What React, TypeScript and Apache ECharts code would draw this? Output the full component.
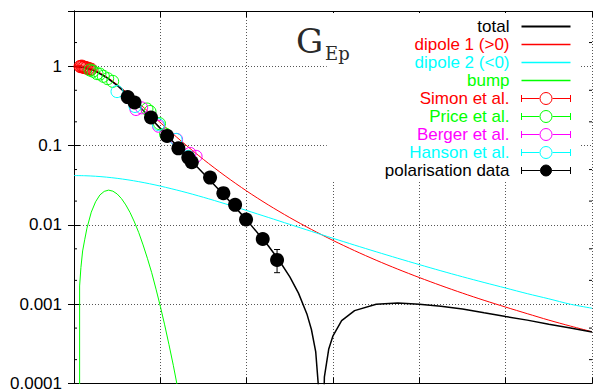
import React, { useEffect, useRef } from "react";
import * as echarts from "echarts";

// ---- curves (x = Q, y = |G|) ----
const totalX = [0, 0.125, 0.25, 0.375, 0.5, 0.625, 0.75, 0.875, 1, 1.25, 1.5, 1.75, 2, 2.25, 2.375, 2.5, 2.6, 2.7, 2.75, 2.8, 2.85, 2.865, 2.9, 2.95, 3, 3.1, 3.25, 3.5, 3.75, 4, 4.25, 4.5, 4.75, 5, 5.25, 5.5, 5.75, 6];
const totalY = [0.998, 0.9636, 0.8673, 0.7292, 0.5766, 0.4347, 0.3182, 0.2298, 0.1654, 0.0859, 0.0446, 0.023, 0.01159, 0.00547, 0.00359, 0.00221, 0.00138, 0.00074, 0.00048, 0.00025, 0.00005, 0.000001, 0.00012, 0.00027, 0.0004, 0.00062, 0.00083, 0.001, 0.00104, 0.001, 0.00094, 0.00087, 0.00078, 0.0007, 0.00063, 0.00056, 0.0005, 0.000445];

const dipoleX = [0, 0.125, 0.25, 0.375, 0.5, 0.625, 0.75, 0.875, 1, 1.25, 1.5, 1.75, 2, 2.25, 2.5, 2.75, 3, 3.25, 3.5, 3.75, 4, 4.25, 4.5, 4.75, 5, 5.25, 5.5, 5.75, 6];
const dipole1Y = [1.04, 0.9988, 0.8888, 0.7421, 0.5908, 0.4558, 0.3454, 0.2598, 0.1954, 0.1124, 0.067, 0.0416, 0.0268, 0.01792, 0.01237, 0.00878, 0.00638, 0.00474, 0.00359, 0.00277, 0.00217, 0.00172, 0.00138, 0.00112, 0.00092, 0.00076, 0.00063, 0.00053, 0.00045];
const dipole2Y = [0.042, 0.04178, 0.04115, 0.04011, 0.03873, 0.03706, 0.03516, 0.03309, 0.03093, 0.02653, 0.02232, 0.01851, 0.01522, 0.01245, 0.01016, 0.0083, 0.00679, 0.00557, 0.00459, 0.0038, 0.00316, 0.00264, 0.00222, 0.00188, 0.0016, 0.00136, 0.00117, 0.001, 0.00089];

const bumpX = [0.065, 0.065, 0.08, 0.1, 0.125, 0.15, 0.2, 0.25, 0.3, 0.35, 0.4, 0.45, 0.5, 0.55, 0.6, 0.65, 0.7, 0.75, 0.8, 0.85, 0.9, 0.95, 1.0, 1.05, 1.1, 1.15, 1.2, 1.3];
const bumpY = [0.000001, 0.0017, 0.0029, 0.0047, 0.0066, 0.0091, 0.0145, 0.0196, 0.0239, 0.0265, 0.0275, 0.0267, 0.0246, 0.0215, 0.0179, 0.0143, 0.0109, 0.008, 0.0056, 0.0038, 0.0025, 0.00155, 0.00094, 0.00055, 0.00031, 0.00017, 0.000089, 0.000022];

// ---- data sets ----
const simonX = [0.07, 0.08, 0.09, 0.1, 0.11, 0.12, 0.13, 0.14, 0.15, 0.165, 0.18, 0.2];
const simonY = [1.0, 0.99, 1.01, 0.985, 0.975, 0.98, 0.965, 0.955, 0.96, 0.94, 0.935, 0.92];
const priceX = [0.185, 0.22, 0.267, 0.3, 0.34, 0.39, 0.448, 0.845, 0.88, 0.99, 1.06];
const priceY = [0.9, 0.87, 0.81, 0.8, 0.75, 0.7, 0.648, 0.29, 0.27, 0.19, 0.14];
const bergerX = [0.718, 0.784, 0.979, 1.188, 1.344, 1.414];
const bergerY = [0.286, 0.3, 0.176, 0.12, 0.08, 0.0734];
const hansonX = [0.498, 0.707, 0.977, 1.182, 1.324];
const hansonY = [0.481, 0.312, 0.185, 0.12, 0.0734];
const polX = [0.622, 0.701, 0.892, 1.078, 1.209, 1.324, 1.364, 1.576, 1.73, 1.866, 1.993, 2.186, 2.352];
const polY = [0.41, 0.35, 0.2267, 0.1328, 0.0925, 0.0707, 0.0617, 0.0396, 0.0252, 0.01795, 0.0117, 0.00665, 0.00362];
const polLo = [0.4, 0.34, 0.22, 0.128, 0.089, 0.068, 0.059, 0.038, 0.024, 0.0169, 0.0109, 0.0059, 0.0025];
const polHi = [0.42, 0.36, 0.233, 0.138, 0.096, 0.0735, 0.0645, 0.0412, 0.0264, 0.019, 0.0125, 0.0074, 0.0049];

// ---- axis ticks ----
const yMin = 0.0001;
const yMax = 5;
const minorTicksY = [0.0002, 0.0005, 0.002, 0.005, 0.02, 0.05, 0.2, 0.5, 2];

const FONT = "'Liberation Sans', Arial, sans-serif";
const ICON_OPEN = "path://M0,6L18,6M31,6L49,6M0,2.5L0,9.5M49,2.5L49,9.5M30.5,6A6,6,0,1,1,18.5,6A6,6,0,1,1,30.5,6Z";
const ICON_FILLED = "path://M0,6L19,6M30,6L49,6M0,2.5L0,9.5M49,2.5L49,9.5M30,6A5.5,5.5,0,1,1,19,6A5.5,5.5,0,1,1,30,6Z";
const ICON_LINE = "path://M0,0L49,0L49,1.5L0,1.5Z";
const ICON_LINE_BOLD = "path://M0,0L49,0L49,2L0,2Z";

function fmtLog(v: number) {
  const l = Math.log10(v);
  const e = Math.round(l);
  if (Math.abs(l - e) > 1e-6) return "";
  if (e >= 0) return String(Math.pow(10, e));
  return "0." + "0".repeat(-e - 1) + "1";
}

function zip(xs: number[], ys: number[]) {
  return xs.map((x, i) => [x, ys[i]]);
}

function openScatter(name: string, color: string, xs: number[], ys: number[]) {
  return {
    type: "scatter",
    name,
    data: zip(xs, ys),
    symbol: "circle",
    symbolSize: 12,
    itemStyle: { color: "rgba(0,0,0,0)", borderColor: color, borderWidth: 1, opacity: 1 },
    z: 4,
  };
}

export default function App() {
  const ref = useRef<HTMLDivElement>(null);
  useEffect(() => {
    if (!ref.current) return;
    const chart = echarts.init(ref.current, undefined, { renderer: "svg" });
    const legendItem = (name: string, color: string, extra: any = {}) => ({
      name,
      textStyle: { color, fontSize: 17, fontFamily: FONT, padding: [0, 7, 0, 0] },
      ...extra,
    });
    const lineItem = (name: string, color: string, icon: string) =>
      legendItem(name, color, { icon, itemStyle: { color, borderWidth: 0, opacity: 1 } });
    const option: any = {
      animation: false,
      backgroundColor: "#fff",
      grid: { left: 74, top: 11, right: 2, bottom: 7 },
      xAxis: [
        {
          type: "value",
          min: 0,
          max: 6,
          interval: 1,
          position: "bottom",
          axisLine: { show: true, onZero: false, lineStyle: { color: "#000", width: 1 } },
          axisTick: { show: true, inside: true, length: 6, lineStyle: { color: "#000" } },
          axisLabel: { show: false },
          splitLine: { show: true, lineStyle: { color: "#555", type: [1, 2], width: 1 } },
        },
        {
          type: "value",
          min: 0,
          max: 6,
          interval: 1,
          position: "top",
          axisLine: { show: true, onZero: false, lineStyle: { color: "#000", width: 1 } },
          axisTick: { show: true, inside: true, length: 6, lineStyle: { color: "#000" } },
          axisLabel: { show: false },
          splitLine: { show: false },
        },
      ],
      yAxis: [
        {
          type: "log",
          logBase: 10,
          min: yMin,
          max: yMax,
          position: "left",
          axisLine: { show: true, lineStyle: { color: "#000", width: 1 } },
          axisTick: { show: true, inside: true, length: 6, lineStyle: { color: "#000" } },
          axisLabel: { show: true, formatter: fmtLog, fontSize: 17, fontFamily: FONT, color: "#000", margin: 12 },
          splitLine: { show: true, lineStyle: { color: "#555", type: [1, 2], width: 1 } },
        },
        {
          type: "log",
          logBase: 10,
          min: yMin,
          max: yMax,
          position: "right",
          axisLine: { show: true, lineStyle: { color: "#000", width: 1 } },
          axisTick: { show: true, inside: true, length: 6, lineStyle: { color: "#000" } },
          axisLabel: { show: false },
          splitLine: { show: false },
        },
      ],
      legend: {
        orient: "vertical",
        right: 14,
        top: 13,
        align: "right",
        itemWidth: 49,
        itemHeight: 12,
        itemGap: 1,
        symbolKeepAspect: true,
        padding: [5, 9, 2, 58],
        backgroundColor: "#fff",
        selectedMode: false,
        textStyle: { fontSize: 17, fontFamily: FONT, padding: [0, 7, 0, 0] },
        data: [
          lineItem("total", "#000", ICON_LINE_BOLD),
          lineItem("dipole 1 (>0)", "#ff0000", ICON_LINE),
          lineItem("dipole 2 (<0)", "#00ffff", ICON_LINE),
          lineItem("bump", "#00ff00", ICON_LINE),
          legendItem("Simon et al.", "#ff0000", { icon: ICON_OPEN, itemStyle: { color: "#fff", borderColor: "#ff0000", borderWidth: 1, opacity: 1 } }),
          legendItem("Price et al.", "#00ff00", { icon: ICON_OPEN, itemStyle: { color: "#fff", borderColor: "#00ff00", borderWidth: 1, opacity: 1 } }),
          legendItem("Berger et al.", "#ff00ff", { icon: ICON_OPEN, itemStyle: { color: "#fff", borderColor: "#ff00ff", borderWidth: 1, opacity: 1 } }),
          legendItem("Hanson et al.", "#00ffff", { icon: ICON_OPEN, itemStyle: { color: "#fff", borderColor: "#00ffff", borderWidth: 1, opacity: 1 } }),
          legendItem("polarisation data", "#000", { icon: ICON_FILLED, itemStyle: { color: "#000", borderColor: "#000", borderWidth: 1, opacity: 1 } }),
        ],
      },
      graphic: [
        {
          type: "text",
          x: 296,
          y: 41,
          z: 100,
          style: { text: "G", fontSize: 34, fontFamily: "'DejaVu Serif', serif", fill: "#2a2a2a", verticalAlign: "middle", align: "left" },
        },
        {
          type: "text",
          x: 325,
          y: 53,
          z: 100,
          style: { text: "Ep", fontSize: 18, fontFamily: "'DejaVu Serif', serif", fill: "#2a2a2a", verticalAlign: "middle", align: "left" },
        },
      ],
      series: [
        {
          type: "line",
          name: "total",
          data: zip(totalX, totalY),
          showSymbol: false,
          symbol: "none",
          lineStyle: { color: "#000", width: 1.5 },
          itemStyle: { color: "#000" },
          z: 3,
        },
        {
          type: "line",
          name: "dipole 1 (>0)",
          data: zip(dipoleX, dipole1Y),
          smooth: 0.3,
          symbol: "none",
          lineStyle: { color: "#ff0000", width: 1 },
          itemStyle: { color: "#ff0000" },
          z: 2,
        },
        {
          type: "line",
          name: "dipole 2 (<0)",
          data: zip(dipoleX, dipole2Y),
          smooth: 0.3,
          symbol: "none",
          lineStyle: { color: "#00ffff", width: 1 },
          itemStyle: { color: "#00ffff" },
          z: 2,
        },
        {
          type: "line",
          name: "bump",
          data: zip(bumpX, bumpY),
          symbol: "none",
          lineStyle: { color: "#00ff00", width: 1 },
          itemStyle: { color: "#00ff00" },
          z: 2,
        },
        openScatter("Simon et al.", "#ff0000", simonX, simonY),
        openScatter("Price et al.", "#00ff00", priceX, priceY),
        openScatter("Berger et al.", "#ff00ff", bergerX, bergerY),
        openScatter("Hanson et al.", "#00ffff", hansonX, hansonY),
        {
          type: "custom",
          name: "polErr",
          data: polX.map((x, i) => [x, polLo[i], polHi[i]]),
          encode: { x: 0, y: [1, 2] },
          z: 5,
          silent: true,
          renderItem: (params: any, api: any) => {
            const x = api.value(0);
            const lo = api.coord([x, api.value(1)]);
            const hi = api.coord([x, api.value(2)]);
            const st = { stroke: "#000", lineWidth: 1 };
            return {
              type: "group",
              children: [
                { type: "line", shape: { x1: lo[0], y1: lo[1], x2: hi[0], y2: hi[1] }, style: st },
                { type: "line", shape: { x1: lo[0] - 3, y1: lo[1], x2: lo[0] + 3, y2: lo[1] }, style: st },
                { type: "line", shape: { x1: hi[0] - 3, y1: hi[1], x2: hi[0] + 3, y2: hi[1] }, style: st },
              ],
            };
          },
        },
        {
          type: "scatter",
          name: "polarisation data",
          data: zip(polX, polY),
          symbol: "circle",
          symbolSize: 14,
          itemStyle: { color: "#000", opacity: 1 },
          z: 6,
        },
        {
          type: "scatter",
          name: "minorLeft",
          data: minorTicksY.map((v) => [0, v]),
          symbol: "rect",
          symbolSize: [3, 1],
          symbolOffset: [1.5, 0],
          itemStyle: { color: "#000", opacity: 1 },
          silent: true,
          clip: false,
          z: 7,
        },
        {
          type: "scatter",
          name: "minorRight",
          data: minorTicksY.map((v) => [6, v]),
          symbol: "rect",
          symbolSize: [3, 1],
          symbolOffset: [-1.5, 0],
          itemStyle: { color: "#000", opacity: 1 },
          silent: true,
          clip: false,
          z: 7,
        },
      ],
    };
    chart.setOption(option);
    return () => chart.dispose();
  }, []);
  return (
    <div
      ref={ref}
      style={{ position: "fixed", left: 0, top: 0, width: 594, height: 392, background: "#fff" }}
    />
  );
}
